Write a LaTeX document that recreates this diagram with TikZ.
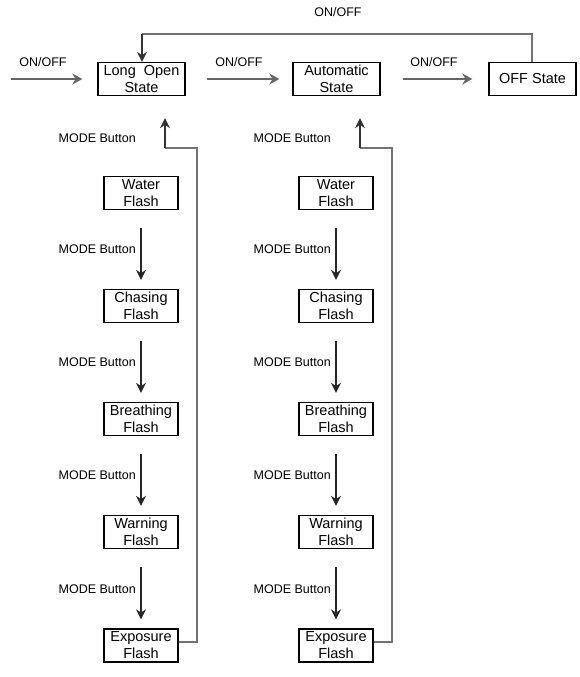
\documentclass[tikz,border=0pt]{standalone}
\usepackage{fontspec}
\setmainfont{Liberation Sans}
\usetikzlibrary{arrows.meta,calc}
\begin{document}
\begin{tikzpicture}[x=1pt,y=-1pt,
  box/.style={draw=black,line width=1.3pt,minimum width=74pt,minimum height=33pt,inner sep=0pt,align=center,font=\fontsize{14.5}{17}\selectfont},
  bigbox/.style={box,minimum width=87pt},
  lbl/.style={font=\fontsize{12.5}{13}\selectfont,inner sep=0pt},
  onarrow/.style={draw=black!60,line width=2.8pt,-{Stealth[length=10pt,width=11pt]}},
  modearrow/.style={draw=black!85,line width=1.8pt,-{Stealth[length=10pt,width=10pt]}},
  ret/.style={draw=black!55,line width=2pt},
  retarrow/.style={draw=black!80,line width=2pt,-{Stealth[length=10pt,width=10pt]}}]
\useasboundingbox (0,0) rectangle (580,677);
% top row
\node[bigbox] (los) at (141.5,79) {Long\ \ Open\\State};
\node[bigbox] (aut) at (336.5,79) {Automatic\\State};
\node[bigbox] (off) at (532.5,79) {OFF State};
\coordinate (in) at (11,79);
\draw[onarrow,shorten >=15pt] (in) -- (los.west);
\draw[onarrow,shorten <=21pt,shorten >=13pt] (los.east) -- (aut.west);
\draw[onarrow,shorten <=22pt,shorten >=16pt] (aut.east) -- (off.west);
\node[lbl] (l1) at (43,62) {ON/OFF};
\node[lbl] (l2) at (239,62) {ON/OFF};
\node[lbl] (l3) at (434,62) {ON/OFF};
\node[lbl] (l4) at (338,12) {ON/OFF};
\coordinate (t1) at (532,34);
\coordinate (t2) at (142,34);
\draw[ret] (off.north -| t1) -- (t1) -- (t2);
\draw[retarrow] (t2) -- (t2 |- los.north);
% columns
\foreach \cx/\p/\tp in {141/A/los,336/B/aut}{
  \node[box] (\p1) at (\cx,193) {Water\\Flash};
  \node[box] (\p2) at (\cx,306) {Chasing\\Flash};
  \node[box] (\p3) at (\cx,419) {Breathing\\Flash};
  \node[box] (\p4) at (\cx,532) {Warning\\Flash};
  \node[box] (\p5) at (\cx,645.5) {Exposure\\Flash};
  \node[lbl,anchor=east] (\p m0) at (\cx-5,138) {MODE Button};
  \foreach \i/\j in {1/2,2/3,3/4,4/5}{
    \draw[modearrow,shorten <=18pt,shorten >=9pt] (\p\i.south) -- (\p\j.north);
    \node[lbl,anchor=east] (\p m\i) at ($(\p\i.south)!0.5!(\p\j.north)+(-5,0)$) {MODE Button};
  }
  \coordinate (\p r1) at (\cx+56,642);
  \coordinate (\p r2) at (\cx+56,148);
  \coordinate (\p r3) at (\cx+24,148);
  \draw[ret] (\p5.east |- \p r1) -- (\p r1) -- (\p r2) -- (\p r3);
  \draw[retarrow,shorten >=22pt] (\p r3) -- (\p r3 |- \tp.south);
}
\end{tikzpicture}
\end{document}
